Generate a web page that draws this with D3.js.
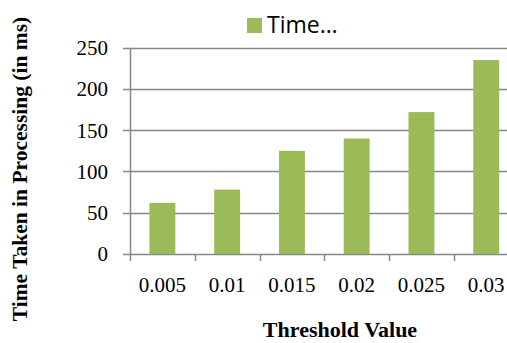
<!DOCTYPE html>
<html><head><meta charset="utf-8">
<script src="https://cdn.jsdelivr.net/npm/d3@7"></script>
<style>html,body{margin:0;padding:0;background:#fff;overflow:hidden}</style>
</head><body>
<script>
const categories = ["0.005","0.01","0.015","0.02","0.025","0.03"];
const values = [62, 78, 125, 140, 172, 235];
const yTicks = [0, 50, 100, 150, 200, 250];
const seriesName = "Time…";
const yTitle = "Time Taken in Processing (in ms)";
const xTitle = "Threshold Value";

(function () {
const W = 507, H = 343;
const svg = d3.select("body").append("svg").attr("width", W).attr("height", H);
const mLeft = 130, mRight = 518.6, mTop = 47.7, mBottom = 254;
const x = d3.scaleBand().domain(categories).range([mLeft, mRight]).paddingInner(0.6).paddingOuter(0.3);
const xb = d3.scaleBand().domain(categories).range([mLeft, mRight]);
const y = d3.scaleLinear().domain([0, 250]).range([mBottom, mTop]);
const grid = "#878787";
const serif = "'Liberation Serif','DejaVu Serif',serif";

svg.append("g").selectAll("line").data(yTicks).join("line")
  .attr("x1", mLeft - 7).attr("x2", mRight)
  .attr("y1", d => Math.round(y(d)) + 0.5).attr("y2", d => Math.round(y(d)) + 0.5)
  .attr("stroke", grid).attr("stroke-width", 1.5);

svg.append("line").attr("x1", mLeft + 0.5).attr("x2", mLeft + 0.5)
  .attr("y1", y(250)).attr("y2", mBottom).attr("stroke", grid).attr("stroke-width", 1.5);

const bounds = categories.map(c => xb(c)).concat([mRight]);
svg.append("g").selectAll("line").data(bounds).join("line")
  .attr("x1", d => Math.round(d) + 0.5).attr("x2", d => Math.round(d) + 0.5)
  .attr("y1", mBottom).attr("y2", mBottom + 7).attr("stroke", grid).attr("stroke-width", 1.5);

svg.append("g").selectAll("rect").data(values).join("rect")
  .attr("x", (d, i) => x(categories[i])).attr("width", x.bandwidth())
  .attr("y", d => y(d)).attr("height", d => mBottom - y(d))
  .attr("fill", "#9BBB59");

svg.append("g").selectAll("text").data(yTicks).join("text")
  .attr("x", 108).attr("y", d => y(d)).attr("dy", "0.35em")
  .attr("text-anchor", "end").attr("font-family", serif).attr("font-size", 21).attr("fill", "#000")
  .text(d => d);

svg.append("g").selectAll("text").data(categories).join("text")
  .attr("x", d => xb(d) + xb.bandwidth() / 2).attr("y", 292)
  .attr("text-anchor", "middle").attr("font-family", serif).attr("font-size", 21).attr("fill", "#000")
  .text(d => d);

svg.append("text").attr("transform", "translate(27,169) rotate(-90)")
  .attr("text-anchor", "middle").attr("font-family", serif).attr("font-weight", "bold")
  .attr("font-size", 21.5).attr("fill", "#000").text(yTitle);
svg.append("text").attr("x", 340).attr("y", 337)
  .attr("text-anchor", "middle").attr("font-family", serif).attr("font-weight", "bold")
  .attr("font-size", 22).attr("fill", "#000").text(xTitle);

svg.append("rect").attr("x", 247).attr("y", 18).attr("width", 15).attr("height", 15).attr("fill", "#9BBB59");
svg.append("text").attr("x", 267).attr("y", 33)
  .attr("font-family", "'Open Sans','Liberation Sans',sans-serif").attr("font-size", 23).attr("fill", "#000")
  .text(seriesName);
})();
</script>
</body></html>
